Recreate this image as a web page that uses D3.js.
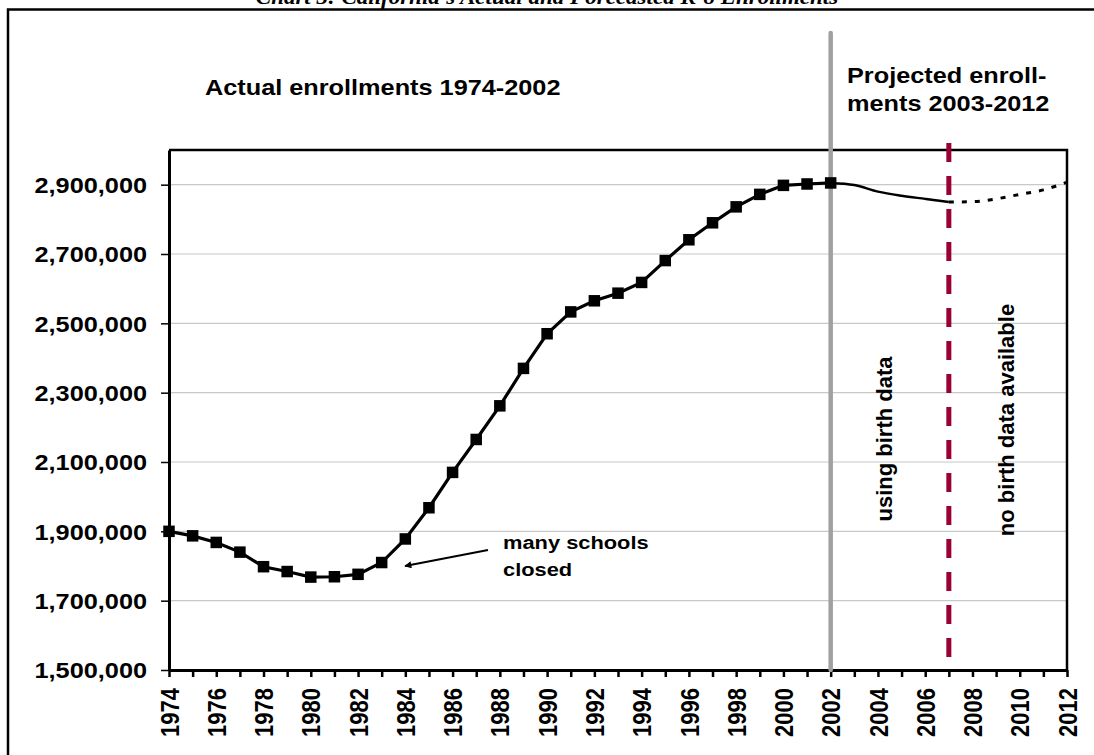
<!DOCTYPE html>
<html>
<head>
<meta charset="utf-8">
<script src="https://cdn.jsdelivr.net/npm/d3@7"></script>
<style>
  html, body { margin: 0; padding: 0; background: #fff; }
  svg { display: block; }
  text { font-family: "Liberation Sans", Arial, sans-serif; font-weight: bold; fill: #000; }
</style>
</head>
<body>
<svg id="chart" width="1094" height="755"></svg>
<script>
// ---- data ----
const actualYears = [1974,1975,1976,1977,1978,1979,1980,1981,1982,1983,1984,1985,1986,1987,1988,1989,1990,1991,1992,1993,1994,1995,1996,1997,1998,1999,2000,2001,2002];
const actualValues = [1900000,1887000,1868000,1840000,1798000,1784000,1768000,1769000,1776000,1810000,1878000,1968000,2070000,2165000,2262000,2370000,2470000,2533000,2565000,2587000,2618000,2681000,2741000,2790000,2836000,2872000,2898000,2902000,2905000];
const birthYears = [2002,2003,2004,2005,2006,2007];
const birthValues = [2905000,2899000,2880000,2868000,2859000,2850000];
const noBirthYears = [2007,2008,2009,2010,2011,2012];
const noBirthValues = [2850000,2851000,2859000,2872000,2885000,2907000];
const yTickValues = [1500000,1700000,1900000,2100000,2300000,2500000,2700000,2900000];
const xTickLabels = [1974,1976,1978,1980,1982,1984,1986,1988,1990,1992,1994,1996,1998,2000,2002,2004,2006,2008,2010,2012];
const title = "Chart 3: California's Actual and Forecasted K-8 Enrollments";

// ---- layout ----
const svg = d3.select("#chart");
const L = 169, R = 1067, T = 150, B = 670;
const SX = 1.15; // horizontal stretch of the original picture's text
const x = d3.scaleLinear().domain([1974, 2012]).range([L, R]);
const y = d3.scaleLinear().domain([1500000, 3000000]).range([B, T]);
const fmt = d3.format(",");

// outer frame
svg.append("rect").attr("x", 8).attr("y", 9.5).attr("width", 1100).attr("height", 760)
  .attr("fill", "none").attr("stroke", "#000").attr("stroke-width", 2.5);

// title (clipped at top, as in the original)
svg.append("text").attr("transform", `translate(547,4) scale(${SX},1)`)
  .attr("text-anchor", "middle")
  .style("font-family", "'Liberation Serif', 'Times New Roman', serif")
  .style("font-style", "italic").style("font-size", "20px").text(title);

// gridlines
svg.append("g").selectAll("line").data(yTickValues.slice(1)).join("line")
  .attr("x1", L).attr("x2", R).attr("y1", d => y(d)).attr("y2", d => y(d))
  .attr("stroke", "#c8c8c8").attr("stroke-width", 1.2);

// plot frame (top/right)
svg.append("path").attr("d", `M${L},${T}H${R}V${B}`).attr("fill", "none")
  .attr("stroke", "#000").attr("stroke-width", 2.5);

// y axis
const yAxis = svg.append("g").attr("transform", `translate(${L},0)`)
  .call(d3.axisLeft(y).tickValues(yTickValues).tickSize(8).tickSizeOuter(0).tickFormat(fmt));
yAxis.select(".domain").attr("stroke-width", 3);
yAxis.selectAll(".tick line").attr("stroke-width", 1.5);
yAxis.selectAll(".tick text")
  .attr("x", -22 / SX).attr("dy", "0.36em")
  .attr("transform", `scale(${SX},1)`)
  .style("font-size", "22px").style("font-family", "'Liberation Sans', Arial, sans-serif").style("font-weight", "bold");

// x axis
const xAxis = svg.append("g").attr("transform", `translate(0,${B})`)
  .call(d3.axisBottom(x).tickValues(d3.range(1974, 2013)).tickSize(7).tickSizeOuter(0)
    .tickFormat(d => xTickLabels.includes(d) ? String(d) : ""));
xAxis.select(".domain").attr("stroke-width", 3);
xAxis.selectAll(".tick line").attr("stroke-width", 2.5);
xAxis.selectAll(".tick text")
  .attr("text-anchor", "end").attr("x", -18).attr("y", 0).attr("dy", "0.36em")
  .attr("transform", `scale(${SX},1) rotate(-90)`)
  .style("font-size", "22px").style("font-family", "'Liberation Sans', Arial, sans-serif").style("font-weight", "bold");

// vertical reference lines
svg.append("line").attr("x1", x(2002)).attr("x2", x(2002)).attr("y1", 33).attr("y2", B)
  .attr("stroke", "#a0a0a0").attr("stroke-width", 4.5).attr("stroke-linecap", "round");
svg.append("line").attr("x1", x(2007)).attr("x2", x(2007)).attr("y1", 143).attr("y2", B)
  .attr("stroke", "#990033").attr("stroke-width", 5).attr("stroke-dasharray", "19,14");

// series lines
const lineGen = d3.line().x(d => x(d[0])).y(d => y(d[1]));
svg.append("path").datum(d3.zip(actualYears, actualValues)).attr("d", lineGen)
  .attr("fill", "none").attr("stroke", "#000").attr("stroke-width", 3.2);
svg.append("path").datum(d3.zip(birthYears, birthValues)).attr("d", lineGen.curve(d3.curveMonotoneX))
  .attr("fill", "none").attr("stroke", "#000").attr("stroke-width", 2.5);
svg.append("path").datum(d3.zip(noBirthYears, noBirthValues)).attr("d", lineGen.curve(d3.curveMonotoneX))
  .attr("fill", "none").attr("stroke", "#000").attr("stroke-width", 3).attr("stroke-dasharray", "5,8");

// markers
const ms = 11.5;
svg.append("g").selectAll("rect").data(d3.zip(actualYears, actualValues)).join("rect")
  .attr("x", d => x(d[0]) - ms / 2).attr("y", d => y(d[1]) - ms / 2)
  .attr("width", ms).attr("height", ms).attr("fill", "#000");

// annotations
function htext(txt, px, py, size) {
  svg.append("text").attr("transform", `translate(${px},${py}) scale(${SX},1)`)
    .style("font-size", size + "px").text(txt);
}
htext("Actual enrollments 1974-2002", 205, 95, 22);
htext("Projected enroll-", 847, 83, 22);
htext("ments 2003-2012", 847, 111, 22);
htext("many schools", 503, 549, 19);
htext("closed", 503, 576, 19);

function vtext(txt, px, py, size) {
  svg.append("text").attr("transform", `translate(${px},${py}) rotate(-90)`)
    .attr("text-anchor", "middle").style("font-size", size + "px").text(txt);
}
vtext("using birth data", 892, 439, 22);
vtext("no birth data available", 1014, 420, 22);

// arrow
svg.append("defs").append("marker").attr("id", "arr").attr("viewBox", "0 0 10 10")
  .attr("refX", 9).attr("refY", 5).attr("markerWidth", 9).attr("markerHeight", 7)
  .attr("markerUnits", "userSpaceOnUse").attr("orient", "auto")
  .append("path").attr("d", "M0,0L10,5L0,10Z").attr("fill", "#000");
svg.append("line").attr("x1", 488).attr("y1", 550).attr("x2", 405).attr("y2", 566)
  .attr("stroke", "#000").attr("stroke-width", 2).attr("marker-end", "url(#arr)");
</script>
</body>
</html>
